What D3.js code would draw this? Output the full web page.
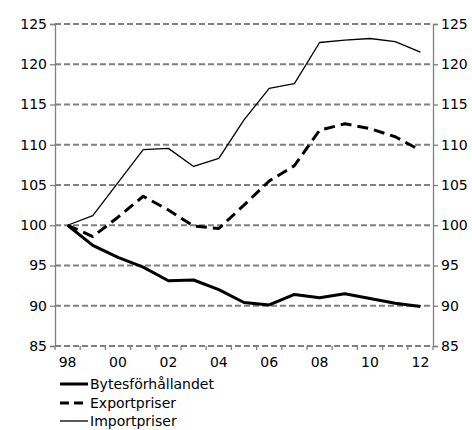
<!DOCTYPE html>
<html>
<head>
<meta charset="utf-8">
<script src="https://cdn.jsdelivr.net/npm/d3@7"></script>
<style>
  body { margin: 0; background: #fff; }
  text { font-family: "DejaVu Sans", Verdana, sans-serif; }
</style>
</head>
<body>
<svg id="chart" width="472" height="430"></svg>
<script>
const years = [1998, 1999, 2000, 2001, 2002, 2003, 2004, 2005, 2006, 2007, 2008, 2009, 2010, 2011, 2012];
const yearLabels = ["98", "", "00", "", "02", "", "04", "", "06", "", "08", "", "10", "", "12"];
const bytes = [100, 97.5, 96.0, 94.8, 93.1, 93.2, 92.0, 90.4, 90.1, 91.4, 91.0, 91.5, 90.9, 90.3, 89.9];
const exportpriser = [100, 98.6, 101.0, 103.6, 101.9, 99.9, 99.6, 102.5, 105.5, 107.4, 111.8, 112.6, 112.0, 111.0, 109.3];
const importpriser = [100, 101.2, 105.3, 109.4, 109.55, 107.3, 108.3, 113.1, 117.0, 117.6, 122.7, 123.0, 123.2, 122.8, 121.5];
const yTicks = [85, 90, 95, 100, 105, 110, 115, 120, 125];
const seriesNames = ["Bytesförhållandet", "Exportpriser", "Importpriser"];

const svg = d3.select("#chart");
const plotLeft = 55, plotRight = 433, plotTop = 24, plotBottom = 346;
const fontSize = "14px";

const x = d3.scaleBand().domain(years).range([plotLeft, plotRight]);
const y = d3.scaleLinear().domain([85, 125]).range([plotBottom, plotTop]);

// grid
svg.append("g")
  .selectAll("line")
  .data(yTicks)
  .enter()
  .append("line")
  .attr("x1", plotLeft)
  .attr("x2", plotRight)
  .attr("y1", d => y(d))
  .attr("y2", d => y(d))
  .attr("stroke", "#808080")
  .attr("stroke-width", 2)
  .attr("stroke-dasharray", "6,3");

// left + right axes
const yLeft = svg.append("g")
  .attr("transform", `translate(${plotLeft},0)`)
  .call(d3.axisLeft(y).tickValues(yTicks).tickSize(5).tickPadding(3));
const yRight = svg.append("g")
  .attr("transform", `translate(${plotRight},0)`)
  .call(d3.axisRight(y).tickValues(yTicks).tickSize(5).tickPadding(3));

[yLeft, yRight].forEach(g => {
  g.select(".domain").attr("stroke", "#808080").attr("stroke-width", 1.3);
  g.selectAll(".tick line").attr("stroke", "#808080").attr("stroke-width", 1.3);
  g.selectAll(".tick text")
    .attr("fill", "#000")
    .style("font-size", fontSize)
    .style("font-family", "DejaVu Sans, Verdana, sans-serif");
});

// x ticks at band boundaries
svg.append("g")
  .selectAll("line")
  .data(years.concat([null]))
  .enter()
  .append("line")
  .attr("x1", (d, i) => plotLeft + i * x.bandwidth())
  .attr("x2", (d, i) => plotLeft + i * x.bandwidth())
  .attr("y1", plotBottom)
  .attr("y2", plotBottom + 4)
  .attr("stroke", "#808080")
  .attr("stroke-width", 1.3);

svg.append("g")
  .selectAll("text")
  .data(years)
  .enter()
  .append("text")
  .attr("x", d => x(d) + x.bandwidth() / 2)
  .attr("y", plotBottom + 21)
  .attr("text-anchor", "middle")
  .style("font-size", fontSize)
  .text((d, i) => yearLabels[i]);

const line = d3.line()
  .x((d, i) => x(years[i]) + x.bandwidth() / 2)
  .y(d => y(d));

const styles = [
  { data: bytes, width: 3, dash: null },
  { data: exportpriser, width: 3, dash: "11,6" },
  { data: importpriser, width: 1.3, dash: null },
];

styles.forEach(s => {
  svg.append("path")
    .datum(s.data)
    .attr("d", line)
    .attr("fill", "none")
    .attr("stroke", "#000")
    .attr("stroke-width", s.width)
    .attr("stroke-dasharray", s.dash)
    .attr("stroke-linejoin", "round");
});

// legend
const legend = svg.append("g");
const legendY = [384, 403, 421];
styles.forEach((s, i) => {
  legend.append("line")
    .attr("x1", 60)
    .attr("x2", 88)
    .attr("y1", legendY[i])
    .attr("y2", legendY[i])
    .attr("stroke", "#000")
    .attr("stroke-width", s.width)
    .attr("stroke-dasharray", s.dash ? "9,5" : null);
  legend.append("text")
    .attr("x", 90)
    .attr("y", legendY[i] + 5)
    .style("font-size", fontSize)
    .text(seriesNames[i]);
});
</script>
</body>
</html>
